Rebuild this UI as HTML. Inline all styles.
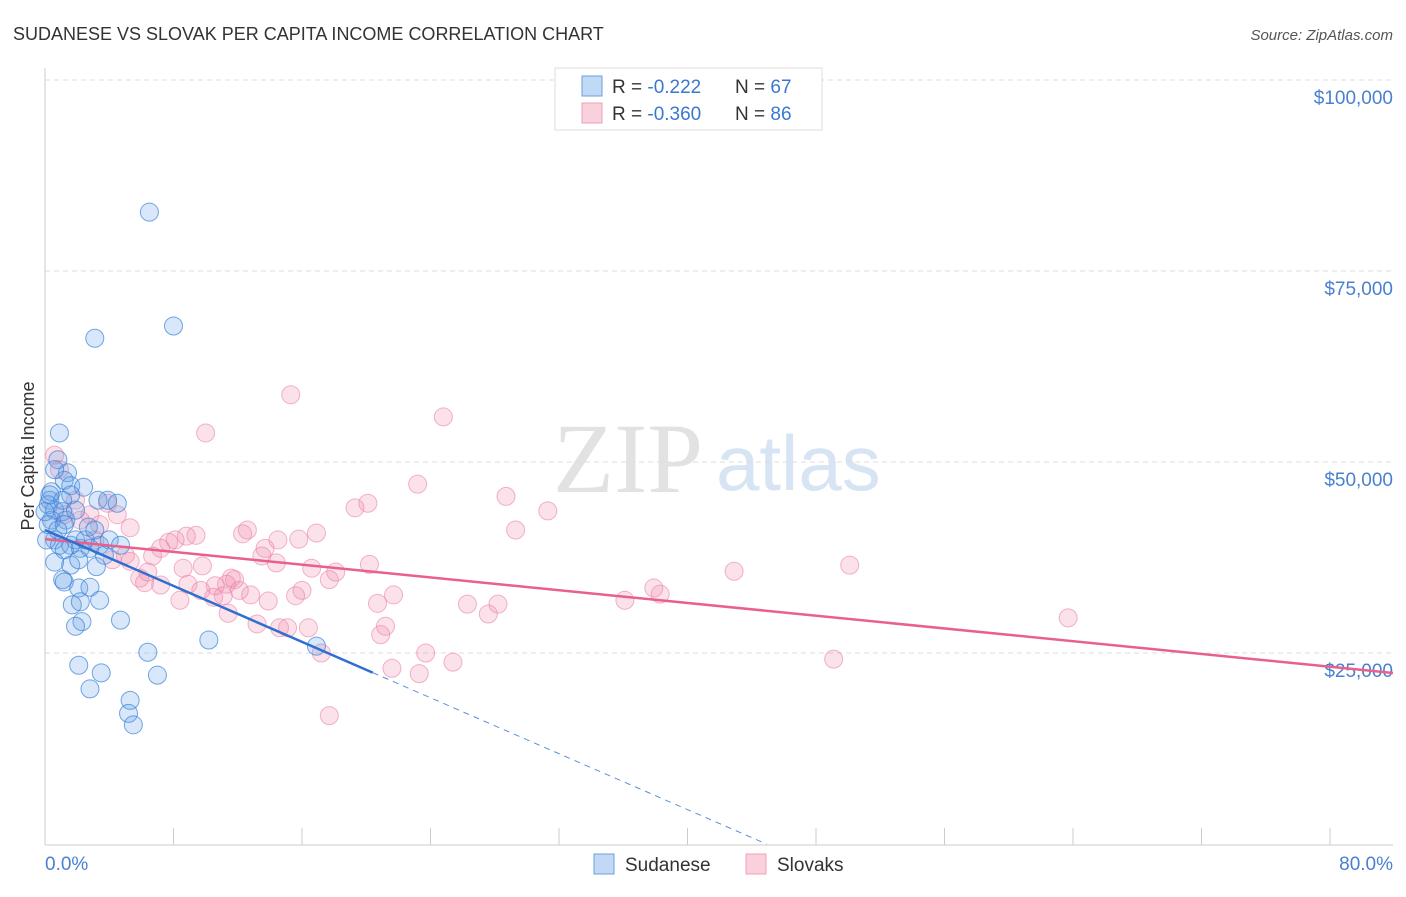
<!DOCTYPE html>
<html><head><meta charset="utf-8"><style>
body{margin:0;background:#fff;font-family:"Liberation Sans",sans-serif}
svg text{font-family:"Liberation Sans",sans-serif}
</style></head><body>
<svg id="c" width="1406" height="892">
<text x="13" y="40" font-size="18" fill="#333">SUDANESE VS SLOVAK PER CAPITA INCOME CORRELATION CHART</text>
<text x="1393" y="40" font-size="15" fill="#555" font-style="italic" text-anchor="end">Source: ZipAtlas.com</text>
<text x="553" y="492" font-size="100" fill="#e2e2e2" style="font-family:'Liberation Serif',serif">ZIP</text>
<text x="716" y="490" font-size="78" fill="#d6e4f4">atlas</text>
<g id="grid"></g>
<line x1="45" y1="68" x2="45" y2="845" stroke="#ccc"/>
<line x1="45" y1="845" x2="1393" y2="845" stroke="#ccc"/>
<g id="ticks"></g>
<text transform="translate(34,456) rotate(-90)" font-size="18" fill="#333" text-anchor="middle">Per Capita Income</text>
<text x="45" y="870" font-size="19" fill="#4a80d0">0.0%</text>
<text x="1393" y="870" font-size="19" fill="#4a80d0" text-anchor="end">80.0%</text>
<g id="pts"></g>
<g id="lines"></g>
<g>
<rect x="555" y="68" width="267" height="62" fill="#fff" stroke="#ddd"/>
<rect x="582" y="76" width="20" height="20" fill="rgba(100,160,230,0.4)" stroke="#6aa0e0"/>
<rect x="582" y="103" width="20" height="20" fill="rgba(240,140,170,0.4)" stroke="#f0a0b8"/>
<text x="612" y="93" font-size="19" fill="#333">R = <tspan fill="#3a78d0">-0.222</tspan></text>
<text x="735" y="93" font-size="19" fill="#333">N = <tspan fill="#3a78d0">67</tspan></text>
<text x="612" y="120" font-size="19" fill="#333">R = <tspan fill="#3a78d0">-0.360</tspan></text>
<text x="735" y="120" font-size="19" fill="#333">N = <tspan fill="#3a78d0">86</tspan></text>
</g>
<g>
<rect x="594" y="854" width="20" height="20" fill="rgba(100,160,230,0.4)" stroke="#6aa0e0"/>
<text x="625" y="871" font-size="19" fill="#333">Sudanese</text></g>
<g>
<rect x="746" y="854" width="20" height="20" fill="rgba(240,140,170,0.4)" stroke="#f0a0b8"/>
<text x="777" y="871" font-size="19" fill="#333">Slovaks</text></g>
</svg>
<script>
const yTicks=[25000,50000,75000,100000];
const yTickLabels=["$25,000","$50,000","$75,000","$100,000"];
const xTicks=[0,8,16,24,32,40,48,56,64,72,80];
const sudX=[6.5,8.0,3.1,0.9,0.8,1.4,1.2,1.6,2.4,0.4,0.3,0.2,0.6,1.1,1.3,0.4,2.7,3.3,3.9,4.5,0.6,0.9,1.6,2.2,2.8,1.9,1.2,0.6,1.6,2.1,3.2,1.1,1.2,2.1,2.8,3.4,1.7,2.2,2.3,1.9,4.7,6.4,10.2,16.9,2.1,3.5,7.0,2.8,5.3,5.2,5.5,0.0,0.2,0.1,2.5,3.4,1.2,0.8,4.0,1.6,0.3,3.1,1.1,0.6,1.9,4.7,3.7];
const sudY=[82.7,67.8,66.2,53.8,50.3,48.6,47.6,46.9,46.7,46.1,45.0,44.4,43.7,43.5,42.4,42.4,41.5,45.0,45.0,44.6,39.8,39.1,39.1,38.7,38.7,39.8,38.5,36.9,36.5,37.2,36.3,34.6,34.3,33.5,33.6,31.9,31.3,31.7,29.1,28.5,29.3,25.1,26.7,25.9,23.4,22.4,22.1,20.3,18.8,17.1,15.6,43.5,41.8,39.8,39.8,39.1,41.8,41.1,39.8,45.7,45.7,41.1,45.0,49.0,43.7,39.1,37.8];
const slvX=[15.3,24.8,10.0,0.6,0.9,23.2,28.7,20.1,19.3,31.3,3.9,4.5,1.9,2.8,1.2,2.2,3.4,5.3,29.3,16.9,12.6,12.3,9.4,8.8,8.1,7.7,15.8,13.7,5.0,6.7,13.5,14.4,5.3,9.8,20.2,16.6,18.1,8.6,6.4,5.9,11.6,11.8,11.3,6.2,7.2,8.9,16.0,12.1,10.5,11.1,15.6,21.7,37.9,38.3,20.7,26.3,28.2,36.1,13.9,8.4,11.4,27.6,13.2,15.1,14.6,21.2,16.4,20.9,17.2,23.7,25.4,21.6,23.3,17.7,42.9,50.1,63.7,49.1,10.6,12.8,14.5,9.7,7.2,17.7,3.1,4.2];
const slvY=[58.8,55.9,53.8,50.9,49.0,47.1,45.5,44.6,44.0,43.6,44.6,43.1,45.0,43.1,43.1,42.4,41.8,41.4,41.1,40.7,41.1,40.6,40.4,40.3,39.8,39.5,39.9,38.7,37.8,37.7,37.7,36.8,37.0,36.4,36.6,36.1,35.6,36.1,35.6,34.8,34.8,34.6,34.0,34.2,33.9,34.0,33.2,33.2,32.3,32.5,32.5,32.6,33.5,32.7,31.5,31.4,31.4,31.9,31.8,31.9,30.2,30.1,28.8,28.3,28.3,28.5,28.3,27.4,25.0,25.0,23.8,23.0,22.3,16.8,35.7,36.5,29.6,24.2,33.8,32.6,39.8,33.2,38.7,34.6,39.8,37.2];
const sudFit=[41.1,-0.915]; // intercept (k$), slope per %
const slvFit=[39.9,-0.208];
const NS="http://www.w3.org/2000/svg";
const sx=v=>45+v*(1330-45)/80;
const sy=k=>844-k*7.64;
function mk(tag,a,p){const e=document.createElementNS(NS,tag);for(const k in a)e.setAttribute(k,a[k]);p.appendChild(e);return e;}
const grid=document.getElementById('grid'),ticks=document.getElementById('ticks'),pts=document.getElementById('pts'),lines=document.getElementById('lines');
yTicks.forEach((t,i)=>{const y=sy(t/1000);
const g=mk('line',{x1:45,x2:1393,y1:y,y2:y,stroke:'#ddd','stroke-dasharray':'5,4'},grid);


const tx=mk('text',{x:1393,y:y+24,'font-size':19,fill:'#4a80d0','text-anchor':'end'},grid);tx.textContent=yTickLabels[i];

});
xTicks.forEach(t=>{const x=sx(t);const l=mk('line',{x1:x,x2:x,y1:828,y2:845,stroke:'#ccc'},ticks);

});
function dots(X,Y,fill,stroke,name){X.forEach((v,i)=>{const c=mk('circle',{cx:sx(v),cy:sy(Y[i]),r:9,fill:fill,stroke:stroke,'stroke-width':1},pts);

});}
dots(slvX,slvY,'rgba(240,140,170,0.25)','rgba(235,130,165,0.6)','slovak-point');
dots(sudX,sudY,'rgba(100,160,230,0.25)','rgba(60,130,215,0.7)','sudanese-point');
const f=(fit,x)=>fit[0]+fit[1]*x;
let l=mk('line',{x1:sx(0),y1:sy(f(slvFit,0)),x2:1393,y2:sy(f(slvFit,84.2)),stroke:'#e8608c','stroke-width':2.5},lines);


l=mk('line',{x1:sx(0),y1:sy(f(sudFit,0)),x2:sx(20.4),y2:sy(f(sudFit,20.4)),stroke:'#2f6fd0','stroke-width':2.5},lines);


const xe=-sudFit[0]/sudFit[1];
l=mk('line',{x1:sx(20.4),y1:sy(f(sudFit,20.4)),x2:sx(xe),y2:sy(0),stroke:'#5a90dd','stroke-width':1,'stroke-dasharray':'6,5'},lines);


</script>
</body></html>
